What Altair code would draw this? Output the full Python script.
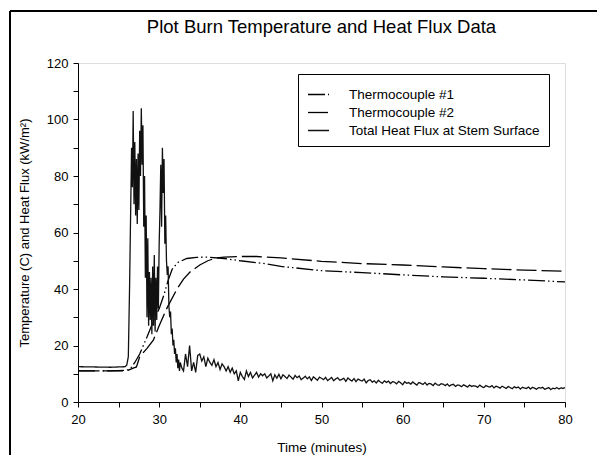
import altair as alt
import pandas as pd

# ---------------- data ----------------
x_ticks = [20, 25, 30, 35, 40, 45, 50, 55, 60, 65, 70, 75, 80]
y_ticks = [0, 10, 20, 30, 40, 50, 60, 70, 80, 90, 100, 110, 120]

series_names = ["Thermocouple #1", "Thermocouple #2", "Total Heat Flux at Stem Surface"]

tc1_t = [20, 24, 26, 26.5, 27, 27.6, 28.5, 29.2, 30, 30.6, 31.1, 31.6, 32.3, 33.4, 34.6, 36, 38, 40, 43, 45, 50, 55, 57, 60, 65, 70, 75, 80]
tc1_v = [11, 11, 11.2, 12, 14, 17, 23, 28, 33, 38, 43, 47, 49.4, 50.8, 51.2, 51.3, 50.8, 50, 49, 48, 46.5, 45.8, 45.5, 45, 44.3, 43.8, 43.2, 42.5]

tc2_t = [20, 24, 26, 26.8, 27.2, 27.6, 28.5, 29.3, 30, 31, 32.2, 33, 33.8, 35, 36, 37, 38, 40, 42, 45, 50, 55, 60, 65, 70, 75, 80]
tc2_v = [11, 11, 11, 12, 12.4, 16, 19, 22, 27, 33.5, 40, 43.5, 46, 48.5, 50, 51, 51.3, 51.5, 51.5, 51, 49.8, 49, 48.5, 47.8, 47.2, 46.7, 46.3]

# heat flux, fire passage (irregular samples)
flux_spike_t = [20.0, 22.0, 24.0, 25.8, 26.0, 26.2, 26.35, 26.5, 26.6, 26.7, 26.8, 26.9,
                27.0, 27.1, 27.2, 27.3, 27.4, 27.5, 27.6, 27.7, 27.8, 27.9,
                28.0, 28.1, 28.2, 28.3, 28.4, 28.5, 28.6, 28.7, 28.8, 28.9,
                29.0, 29.1, 29.2, 29.3, 29.4, 29.5, 29.6, 29.7, 29.8, 29.9,
                30.0, 30.1, 30.2, 30.3, 30.4, 30.5, 30.6, 30.7, 30.8, 30.9,
                31.0, 31.1, 31.2, 31.3, 31.4, 31.5, 31.6, 31.7, 31.8, 31.9,
                32.0, 32.1, 32.2, 32.3, 32.4, 32.5, 32.6, 32.8]
flux_spike_v = [12.5, 12.4, 12.3, 12.5, 13, 16, 40, 70, 90, 76, 103, 70,
                92, 66, 86, 63, 88, 68, 96, 80, 104, 84,
                98, 62, 80, 44, 66, 30, 58, 27, 46, 29,
                44, 24, 48, 27, 52, 25, 44, 29, 48, 33,
                56, 68, 84, 62, 90, 74, 86, 56, 66, 50,
                45, 48, 34, 30, 32, 24, 26, 20, 22, 17,
                19, 14, 17, 12, 15, 11, 14, 12]

# heat flux tail, sampled every 0.25 min from 33.0 to 80.0
flux_tail_start = 33.0
flux_tail_step = 0.25
flux_tail_v = [
    11, 17, 12.5, 20, 11, 14, 10.5, 16.5,
    17, 14.5, 16, 12.5, 15.5, 14, 13, 15,
    12.5, 14, 11.5, 13.5, 12.5, 11, 12.5, 10.5,
    12, 10, 11, 7.5, 10.5, 9, 8, 11,
    9, 10.5, 8.5, 9.5, 10.5, 8.8, 10, 9.3,
    10, 8.5, 9.2, 10, 7.5, 9.6, 8.4, 9.8,
    8.2, 9.6, 9, 8.3, 9.5, 8.8, 8.1, 9.4,
    8.6, 9.2, 7.9, 8.5, 9.1, 8.2, 8.9, 7.6,
    8.9, 8.3, 7.7, 8.8, 8.4, 7.9, 8.7, 7.6,
    8.1, 8.7, 7.5, 8.2, 8.6, 7.7, 8.0, 8.4,
    7.3, 8.5, 7.9, 7.4, 8.3, 7.2, 8.1, 7.7,
    7.4, 8.1, 6.8, 7.6, 7.9, 7.0, 7.5, 6.7,
    7.7, 7.1, 6.6, 7.5, 6.9, 7.4, 6.5, 7.2,
    7.0, 6.4, 7.3, 6.8, 6.1, 7.2, 6.6, 6.9,
    6.3, 7.1, 6.5, 6.0, 6.9, 6.6, 6.2, 6.9,
    6.0, 6.6, 6.4, 5.8, 6.7, 6.1, 5.9, 6.5,
    6.3, 5.8, 6.4, 5.6, 6.1, 6.3, 5.5, 6.0,
    5.9, 5.4, 6.1, 5.7, 5.3, 6.0, 5.5, 5.8,
    5.6, 5.2, 6.0, 5.4, 5.1, 5.8, 5.5, 5.3,
    5.8, 5.0, 5.6, 5.3, 4.9, 5.6, 5.2, 4.8,
    5.5, 5.1, 4.7, 5.4, 5.0, 5.3, 4.6, 5.2,
    5.0, 4.8, 5.3, 4.6, 5.2, 4.9, 4.5, 5.1,
    4.9, 5.2, 4.5, 4.8, 5.1, 4.4, 4.9, 4.7,
    5.1, 4.6, 5.0, 4.8, 5.1,
]
flux_tail_t = [round(flux_tail_start + flux_tail_step * i, 2) for i in range(len(flux_tail_v))]

# ---------------- build table ----------------
rows = []
for t, v in zip(tc1_t, tc1_v):
    rows.append({"t": t, "v": v, "series": series_names[0]})
for t, v in zip(tc2_t, tc2_v):
    rows.append({"t": t, "v": v, "series": series_names[1]})
for t, v in zip(flux_spike_t + flux_tail_t, flux_spike_v + flux_tail_v):
    rows.append({"t": t, "v": v, "series": series_names[2]})
df = pd.DataFrame(rows)

FONT = "Liberation Sans"

legend = alt.Legend(
    title=None, orient="none", legendX=220, legendY=11,
    symbolType="stroke", symbolSize=441, symbolStrokeWidth=1.2,
    labelFont=FONT, labelFontSize=13.5, labelColor="black", labelOffset=19,
    labelLimit=400, padding=9, rowPadding=-4,
    strokeColor="black", fillColor="white",
)

lines = alt.Chart(df).mark_line(clip=True).encode(
    x=alt.X("t:Q", scale=alt.Scale(domain=[20, 80], nice=False),
            axis=alt.Axis(title="Time (minutes)", values=x_ticks,
                          labelExpr="datum.value % 10 == 0 ? datum.label : ''",
                          grid=False, tickSize=5, tickColor="black", domainColor="black",
                          labelColor="black", labelFont=FONT, labelFontSize=13,
                          labelPadding=6, titleFont=FONT, titleFontSize=13.5,
                          titleFontWeight="normal", titleColor="black", titlePadding=14,
                          labelFlush=False)),
    y=alt.Y("v:Q", scale=alt.Scale(domain=[0, 120], nice=False),
            axis=alt.Axis(title="Temperature (C) and Heat Flux (kW/m²)", values=y_ticks,
                          labelExpr="datum.value % 20 == 0 ? datum.label : ''",
                          grid=False, tickSize=5, tickColor="black", domainColor="black",
                          labelColor="black", labelFont=FONT, labelFontSize=13,
                          labelPadding=5, titleFont=FONT, titleFontSize=13,
                          titleFontWeight="normal", titleColor="black", titlePadding=15,
                          labelFlush=False)),
    color=alt.Color("series:N",
                    scale=alt.Scale(domain=series_names, range=["#000000", "#000000", "#111111"]),
                    legend=legend),
    strokeDash=alt.StrokeDash("series:N",
                              scale=alt.Scale(domain=series_names,
                                              range=[[17, 3, 1.5, 3, 1.5, 3], [20, 5], [1, 0]]),
                              legend=legend),
    strokeWidth=alt.StrokeWidth("series:N",
                                scale=alt.Scale(domain=series_names, range=[1.3, 1.3, 1.0]),
                                legend=None),
    order="t:Q",
)

frame_df = pd.DataFrame({"k": [0]})
frame_v = alt.Chart(frame_df).mark_rule(color="black", strokeWidth=2).encode(
    x=alt.value(-68), y=alt.value(-52), y2=alt.value(470))
frame_h = alt.Chart(frame_df).mark_rule(color="black", strokeWidth=2).encode(
    x=alt.value(-68), x2=alt.value(620), y=alt.value(-52))

chart = alt.layer(lines, frame_v, frame_h).properties(
    width=487, height=339,
    title=alt.TitleParams("Plot Burn Temperature and Heat Flux Data", font=FONT,
                          fontSize=18.5, fontWeight="normal", color="black",
                          anchor="middle", offset=0, dy=26),
    autosize=alt.AutoSizeParams(type="none"),
    padding={"left": 70, "top": 55, "right": 32, "bottom": 53},
).configure_view(stroke="black", strokeWidth=1).configure(background="white")

chart.save("out.html", embed_options={"renderer": "svg", "actions": False})
